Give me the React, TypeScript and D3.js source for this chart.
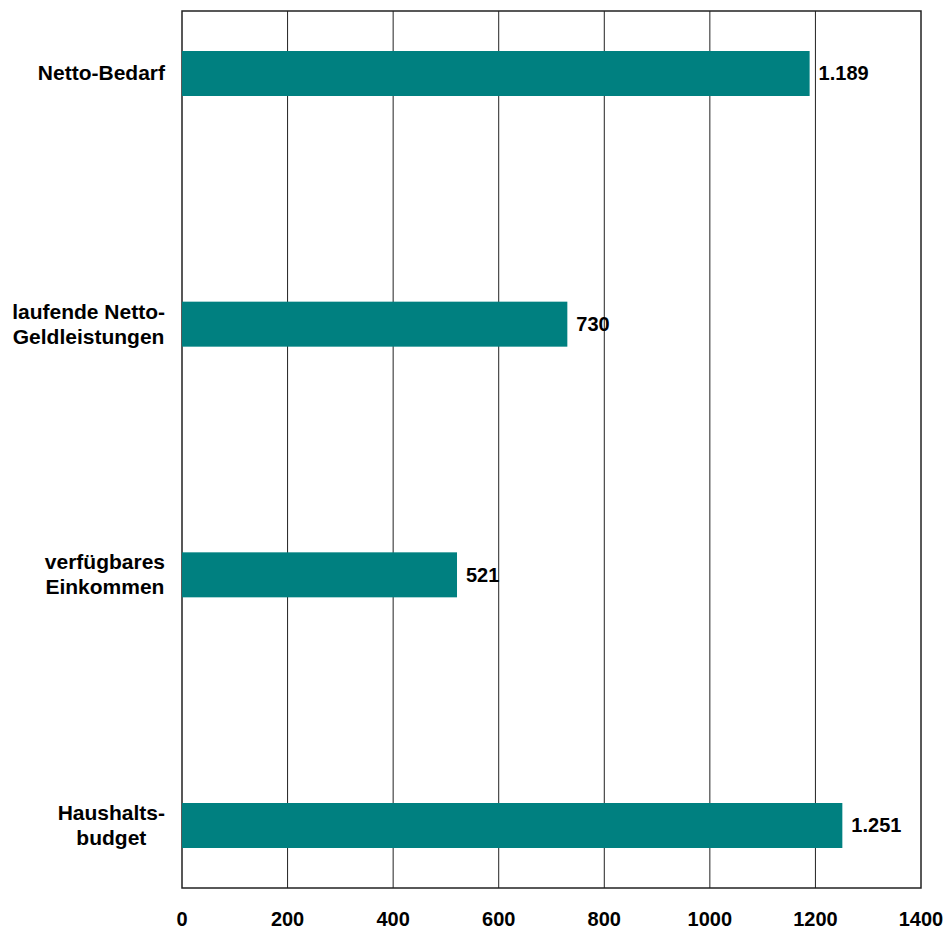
import React, { useEffect, useRef } from "react";
import * as d3 from "d3";

const categories: string[][] = [
  ["Netto-Bedarf"],
  ["laufende Netto-", "Geldleistungen"],
  ["verfügbares", "Einkommen"],
  ["Haushalts-", "budget"],
];
const values: number[] = [1189, 730, 521, 1251];
const ticks: number[] = [0, 200, 400, 600, 800, 1000, 1200, 1400];

const W = 946;
const H = 929;
const FONT = "'Liberation Sans', Arial, Helvetica, sans-serif";

export default function App() {
  const ref = useRef<SVGSVGElement | null>(null);

  useEffect(() => {
    const svg = d3.select(ref.current);
    svg.selectAll("*").remove();

    const left = 182, right = 921, top = 11, bottom = 888;
    const x = d3.scaleLinear().domain([0, 1400]).range([left, right]);
    const y = d3.scaleLinear().domain([0, 3]).range([51, 803]);
    const barH = 45;
    const fmt = d3.formatLocale({ decimal: ",", thousands: ".", grouping: [3], currency: ["", "€"] }).format(",d");

    // gridlines
    svg.append("g")
      .selectAll("line")
      .data(ticks.filter((t) => t > 0 && t < 1400))
      .join("line")
      .attr("x1", (d) => x(d)).attr("x2", (d) => x(d))
      .attr("y1", top).attr("y2", bottom)
      .attr("stroke", "#222").attr("stroke-width", 1);

    // frame
    svg.append("rect")
      .attr("x", left).attr("y", top)
      .attr("width", right - left).attr("height", bottom - top)
      .attr("fill", "none").attr("stroke", "#222").attr("stroke-width", 1.5);

    // bars
    svg.append("g")
      .selectAll("rect")
      .data(values)
      .join("rect")
      .attr("x", x(0))
      .attr("y", (_, i) => y(i))
      .attr("width", (d) => x(d) - x(0))
      .attr("height", barH)
      .attr("fill", "#008080");

    // value labels
    svg.append("g")
      .selectAll("text")
      .data(values)
      .join("text")
      .attr("x", (d) => x(d) + 9)
      .attr("y", (_, i) => y(i) + barH / 2)
      .attr("dy", "0.34em")
      .attr("font-family", FONT)
      .attr("font-weight", "bold")
      .attr("font-size", 20)
      .attr("fill", "#000")
      .text((d) => fmt(d));

    // tick labels
    svg.append("g")
      .selectAll("text")
      .data(ticks)
      .join("text")
      .attr("x", (d) => x(d))
      .attr("y", 926)
      .attr("text-anchor", "middle")
      .attr("font-family", FONT)
      .attr("font-weight", "bold")
      .attr("font-size", 20)
      .attr("fill", "#000")
      .text((d) => String(d));

    // category labels (centered block, right aligned at 165)
    const rightEdge = 165;
    const lineH = 25;
    categories.forEach((lines, i) => {
      const g = svg.append("g");
      const cy = y(i) + barH / 2;
      const texts = lines.map((ln, j) =>
        g.append("text")
          .attr("y", cy + (j - (lines.length - 1) / 2) * lineH)
          .attr("dy", "0.33em")
          .attr("text-anchor", "middle")
          .attr("font-family", FONT)
          .attr("font-weight", "bold")
          .attr("font-size", 21)
          .attr("fill", "#000")
          .text(ln)
      );
      const maxW = d3.max(texts, (t) => (t.node() as SVGTextElement).getComputedTextLength()) || 0;
      texts.forEach((t) => t.attr("x", rightEdge - maxW / 2));
    });
  }, []);

  return (
    <svg
      ref={ref}
      width={W}
      height={H}
      style={{ position: "absolute", left: 0, top: 0, display: "block", background: "#fff" }}
    />
  );
}
